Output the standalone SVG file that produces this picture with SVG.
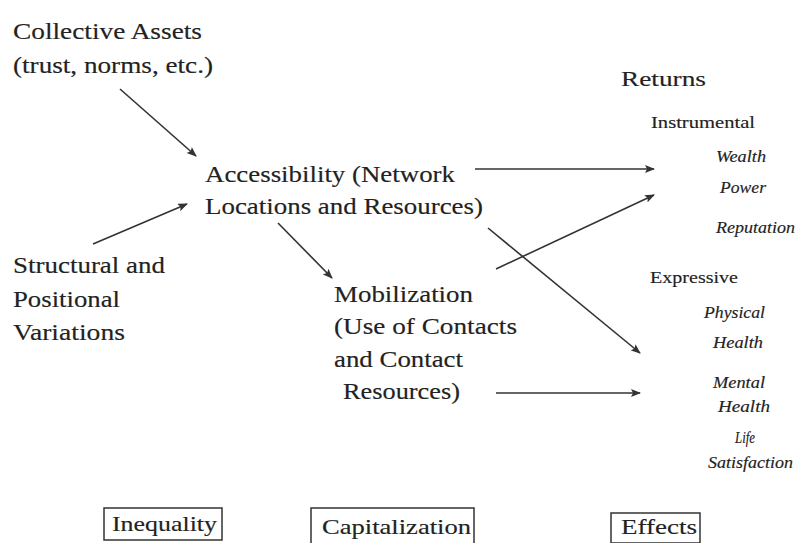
<svg xmlns="http://www.w3.org/2000/svg" width="798" height="543" viewBox="0 0 798 543">
<defs>
<marker id="ah" viewBox="0 0 10 8" refX="9" refY="4" markerWidth="11" markerHeight="8" markerUnits="userSpaceOnUse" orient="auto">
<path d="M0,0 L10,4 L0,8 L2,4 Z" fill="#333"/>
</marker>
<style>
text{fill:#222;stroke:#222;stroke-width:0.15}
.m{font-size:23.5px}
.h{font-size:22px}
.s{font-size:17.5px}
.i{font-size:17px;font-style:italic}
.b{font-size:22px}
.box{fill:none;stroke:#333;stroke-width:1.5}
.c line{stroke:#333;stroke-width:1.6;marker-end:url(#ah)}
</style>
</defs>
<rect width="798" height="543" fill="#fff"/>
<g font-family="'Liberation Serif', 'Times New Roman', Tinos, 'DejaVu Serif', serif">
<g id="collective">
<text class="m" x="13" y="39" textLength="189" lengthAdjust="spacingAndGlyphs">Collective Assets</text>
<text class="m" x="13" y="73" textLength="200" lengthAdjust="spacingAndGlyphs">(trust, norms, etc.)</text>
</g>
<g id="accessibility">
<text class="m" x="205" y="182" textLength="250" lengthAdjust="spacingAndGlyphs">Accessibility (Network</text>
<text class="m" x="205" y="214" textLength="278" lengthAdjust="spacingAndGlyphs">Locations and Resources)</text>
</g>
<g id="structural">
<text class="m" x="13" y="273" textLength="152" lengthAdjust="spacingAndGlyphs">Structural and</text>
<text class="m" x="13" y="307" textLength="107" lengthAdjust="spacingAndGlyphs">Positional</text>
<text class="m" x="13" y="340" textLength="112" lengthAdjust="spacingAndGlyphs">Variations</text>
</g>
<g id="mobilization">
<text class="m" x="334" y="302" textLength="139" lengthAdjust="spacingAndGlyphs">Mobilization</text>
<text class="m" x="334" y="334" textLength="183" lengthAdjust="spacingAndGlyphs">(Use of Contacts</text>
<text class="m" x="334" y="367" textLength="129" lengthAdjust="spacingAndGlyphs">and Contact</text>
<text class="m" x="343" y="399" textLength="117" lengthAdjust="spacingAndGlyphs">Resources)</text>
</g>
<g id="returns">
<text class="h" x="621" y="86" textLength="85" lengthAdjust="spacingAndGlyphs">Returns</text>
</g>
<g id="instrumental">
<text class="s" x="651" y="128" textLength="104" lengthAdjust="spacingAndGlyphs">Instrumental</text>
<text class="i" x="716" y="162" textLength="50" lengthAdjust="spacingAndGlyphs">Wealth</text>
<text class="i" x="720" y="193" textLength="46" lengthAdjust="spacingAndGlyphs">Power</text>
<text class="i" x="716" y="233" textLength="79" lengthAdjust="spacingAndGlyphs">Reputation</text>
</g>
<g id="expressive">
<text class="s" x="650" y="283" textLength="88" lengthAdjust="spacingAndGlyphs">Expressive</text>
<text class="i" x="704" y="318" textLength="61" lengthAdjust="spacingAndGlyphs">Physical</text>
<text class="i" x="713" y="348" textLength="50" lengthAdjust="spacingAndGlyphs">Health</text>
<text class="i" x="713" y="388" textLength="52" lengthAdjust="spacingAndGlyphs">Mental</text>
<text class="i" x="718" y="412" textLength="52" lengthAdjust="spacingAndGlyphs">Health</text>
<text class="i" x="735" y="443" textLength="20" lengthAdjust="spacingAndGlyphs">Life</text>
<text class="i" x="708" y="468" textLength="85" lengthAdjust="spacingAndGlyphs">Satisfaction</text>
</g>
<g id="inequality">
<rect class="box" x="104" y="508" width="118" height="32"/>
<text class="b" x="112" y="531" textLength="105" lengthAdjust="spacingAndGlyphs">Inequality</text>
</g>
<g id="capitalization">
<rect class="box" x="311" y="508" width="163" height="40"/>
<text class="b" x="322" y="534" textLength="149" lengthAdjust="spacingAndGlyphs">Capitalization</text>
</g>
<g id="effects">
<rect class="box" x="611" y="513" width="89" height="30"/>
<text class="b" x="621" y="534" textLength="76" lengthAdjust="spacingAndGlyphs">Effects</text>
</g>
</g>
<g id="connectors" class="c">
<line x1="120" y1="89" x2="196" y2="156"/>
<line x1="93" y1="244" x2="187" y2="204"/>
<line x1="278" y1="223" x2="332" y2="278"/>
<line x1="475" y1="169" x2="654" y2="169"/>
<line x1="496" y1="269" x2="654" y2="195"/>
<line x1="488" y1="228" x2="640" y2="353"/>
<line x1="496" y1="393" x2="640" y2="393"/>
</g>
</svg>
